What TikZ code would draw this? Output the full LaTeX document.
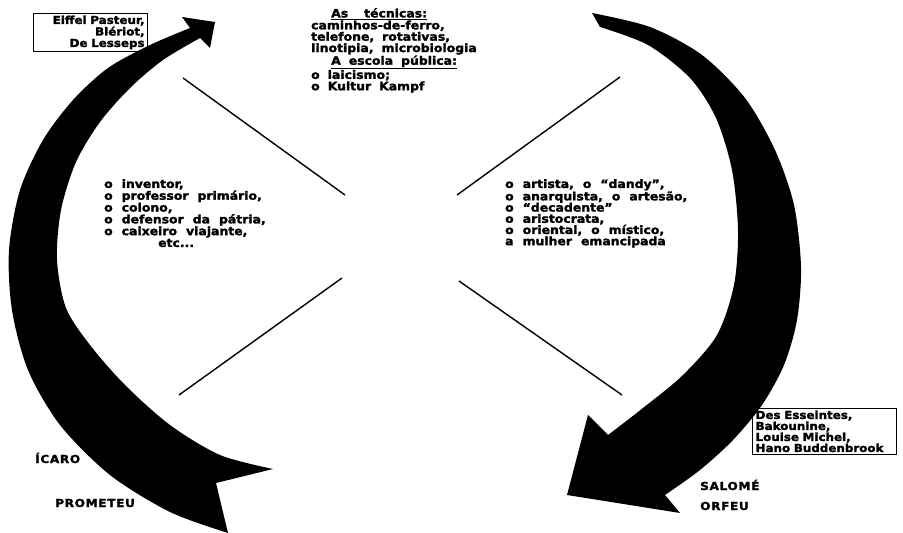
\documentclass[tikz,border=0pt]{standalone}
\usepackage{fontspec}
\newfontfamily\dfont[FakeStretch=1.08,FakeBold=2]{DejaVu Sans}
\newfontfamily\cfont[FakeStretch=1.1,LetterSpace=6,FakeBold=2]{DejaVu Sans}
\tikzset{
  txt/.style={font={\dfont\bfseries\fontsize{11.5}{11.6}\selectfont\spaceskip=9pt plus 2pt\relax}, align=left, inner sep=0pt, anchor=north west},
  boxtxt/.style={txt, draw, line width=1.2pt, inner xsep=3pt, inner ysep=2pt},
  caplabel/.style={font={\cfont\bfseries\fontsize{11}{12}\selectfont}, inner sep=0pt, anchor=base west},
  cross/.style={line width=1.4pt},
  band/.style={fill=black}
}
\begin{document}
\begin{tikzpicture}[x=1pt,y=-1pt]
\useasboundingbox (0,0) rectangle (903,533);
\fill[white] (0,0) rectangle (903,533);

% left arrow (upwards, clockwise)
\fill[band] (215,22) -- (210,48) --
  plot[smooth] coordinates {(200,38) (163,60) (130,88) (100,122) (76,162) (61,210) (57,260) (66,308) (90,345) (125,385) (170,425) (220,455) (273,469)}
  -- (216,483) --
  plot[smooth] coordinates {(228,533) (170,512) (110,475) (60,425) (28,370) (12,310) (9,250) (20,190) (43,140) (73,100) (108,68) (150,45) (190,28)}
  -- (182,17) -- cycle;

% right arrow (downwards)
\fill[band] plot[smooth] coordinates {(592,13) (650,27) (702,55) (745,98) (775,150) (794,205) (801,267) (797,320) (784,365) (762,405) (733,440) (700,470) (665,495)}
  -- (680,513) -- (567,495) -- (588,415) --
  plot[smooth] coordinates {(608,435) (643,408) (683,375) (717,335) (734,285) (738,230) (732,170) (716,118) (690,78) (648,45) (600,27)}
  -- cycle;

% the cross
\coordinate (ula) at (183,78);  \coordinate (ulb) at (345,195);
\coordinate (lla) at (342,278); \coordinate (llb) at (179,395);
\coordinate (ura) at (457,195); \coordinate (urb) at (620,77);
\coordinate (lra) at (459,281); \coordinate (lrb) at (622,395);
\draw[cross] (ula) -- (ulb);
\draw[cross] (lla) -- (llb);
\draw[cross] (ura) -- (urb);
\draw[cross] (lra) -- (lrb);

% boxes
\node[boxtxt, align=right, text width=108pt, font={\dfont\bfseries\fontsize{11}{11.5}\selectfont\spaceskip=8pt plus 2pt\relax}] (inv) at (33,13)
  {Eiffel Pasteur,\\ Blériot,\\ De Lesseps};
\node[boxtxt, text width=138pt, font={\dfont\bfseries\fontsize{11}{11}\selectfont\spaceskip=10pt plus 2pt\relax}] (dec) at (752,408)
  {Des Esseintes,\\ Bakounine,\\ Louise Michel,\\ Hano Buddenbrook};

% top text
\node[txt, font={\dfont\bfseries\fontsize{11.5}{10.3}\selectfont\spaceskip=8pt plus 2pt\relax}] (tec) at (311,8)
  {\hspace*{20pt}\underline{As\ \ técnicas:}\\
   caminhos-de-ferro,\\
   telefone, rotativas,\\
   linotipia, microbiologia\\
   \hspace*{20pt}\underline{A escola pública:}\\
   o laicismo;\\
   o Kultur Kampf};

% left list
\node[txt, font={\dfont\bfseries\fontsize{11.5}{11.8}\selectfont\spaceskip=9pt plus 2pt\relax}] (left) at (104,179)
  {o inventor,\\
   o professor primário,\\
   o colono,\\
   o defensor da pátria,\\
   o caixeiro viajante,\\
   \hspace*{54pt}etc...};

% right list
\node[txt, font={\dfont\bfseries\fontsize{11.5}{11.2}\selectfont\spaceskip=9pt plus 2pt\relax}] (right) at (505,179)
  {o artista, o “dandy”,\\
   o anarquista, o artesão,\\
   o “decadente”\\
   o aristocrata,\\
   o oriental, o místico,\\
   a mulher emancipada};

% labels
\node[caplabel] (icaro) at (35,463) {ÍCARO};
\node[caplabel] (prom) at (55,507) {PROMETEU};
\node[caplabel] (salome) at (700,490) {SALOMÉ};
\node[caplabel] (orfeu) at (700,510) {ORFEU};
\end{tikzpicture}
\end{document}
